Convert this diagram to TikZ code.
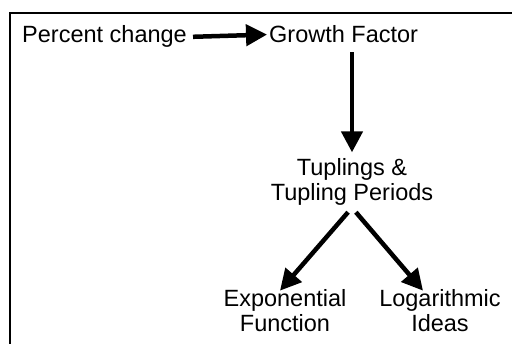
\documentclass[tikz,border=0pt]{standalone}
\usepackage{fontspec}
\setmainfont{Liberation Sans}
\usepackage{tikz}
\usetikzlibrary{arrows.meta}

\tikzset{
  lbl/.style={inner sep=2pt,font=\fontsize{23.5}{25}\selectfont,align=center},
  bigarrow/.style={line width=4.5pt,-{Triangle[length=21pt,width=21pt]}}
}

\begin{document}
\begin{tikzpicture}[x=1pt,y=-1pt]
\useasboundingbox (0,0) rectangle (512,344);
  \draw[line width=2.5pt] (10,344) -- (10,13) -- (512,13);
  \node[lbl,anchor=base west] (pct) at (20,43) {Percent change};
  \node[lbl,anchor=base west] (growth) at (267,43) {Growth Factor};
  \node[lbl] (tupling) at (352,182) {Tuplings \&\\Tupling Periods};
  \node[lbl] (expo) at (285,311) {Exponential\\Function};
  \node[lbl] (loga) at (440,311) {Logarithmic\\Ideas};
      \draw[bigarrow,shorten <=4pt] (pct.east) -- (growth.west);
      \draw[bigarrow,shorten <=7pt,shorten >=4pt] (tupling.north |- growth.south) -- (tupling.north);
      \draw[bigarrow,shorten <=6pt] (tupling.south) -- ([xshift=-5pt,yshift=-3pt]expo.north);
      \draw[bigarrow,shorten <=6pt] (tupling.south) -- ([xshift=-17pt,yshift=-3pt]loga.north);
\end{tikzpicture}
\end{document}
